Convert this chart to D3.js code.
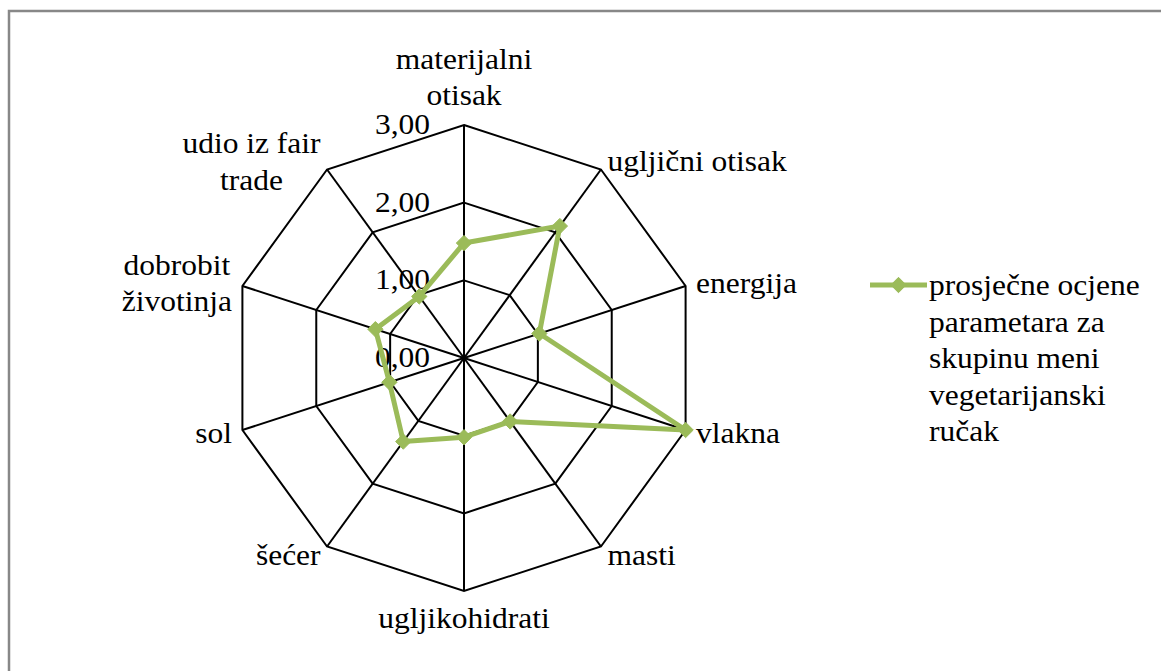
<!DOCTYPE html>
<html>
<head>
<meta charset="utf-8">
<script src="https://cdn.jsdelivr.net/npm/d3@7/dist/d3.min.js"></script>
<style>
  html, body { margin: 0; padding: 0; background: #fff; }
  svg { display: block; }
</style>
</head>
<body>
<svg id="chart" width="1161" height="671"></svg>
<script>
// ---- data ----
const categories = [
  "materijalni otisak", "ugljični otisak", "energija", "vlakna", "masti",
  "ugljikohidrati", "šećer", "sol", "dobrobit životinja", "udio iz fair trade"
];
const categoryLines = [
  ["materijalni", "otisak"], ["ugljični otisak"], ["energija"], ["vlakna"], ["masti"],
  ["ugljikohidrati"], ["šećer"], ["sol"], ["dobrobit", "životinja"], ["udio iz fair", "trade"]
];
const seriesName = "prosječne ocjene parametara za skupinu meni vegetarijanski ručak";
const legendLines = ["prosječne ocjene", "parametara za", "skupinu meni", "vegetarijanski", "ručak"];
const values = [1.48, 2.10, 1.02, 3.00, 1.01, 1.02, 1.33, 1.01, 1.20, 0.98];
const tickValues = [0, 1, 2, 3];
const tickLabels = ["0,00", "1,00", "2,00", "3,00"];

// ---- layout ----
const W = 1161, H = 671;
const cx = 464, cy = 358, R = 233;
const fontSize = 30, stretch = 1.05, lineH = 36.5;
const green = "#9BBB59";

const svg = d3.select("#chart");

// outer frame
svg.append("rect").attr("x", 9).attr("y", 11).attr("width", W + 20).attr("height", H + 20)
  .attr("fill", "#fff").attr("stroke", "#888").attr("stroke-width", 2.5);

const r = d3.scaleLinear().domain([0, 3]).range([0, R]);
const angle = d3.scaleLinear().domain([0, categories.length]).range([0, 2 * Math.PI]);
const pt = (i, v) => [cx + r(v) * Math.sin(angle(i)), cy - r(v) * Math.cos(angle(i))];

const g = svg.append("g");

// rings
tickValues.filter(t => t > 0).forEach(t => {
  g.append("path")
    .attr("d", d3.line()(categories.map((c, i) => pt(i, t))) + "Z")
    .attr("fill", "none").attr("stroke", "#000").attr("stroke-width", 2);
});
// spokes
categories.forEach((c, i) => {
  const [x, y] = pt(i, 3);
  g.append("line").attr("x1", cx).attr("y1", cy).attr("x2", x).attr("y2", y)
    .attr("stroke", "#000").attr("stroke-width", 2);
});

function stext(parent, x, y, str, anchor) {
  return parent.append("text")
    .attr("transform", `translate(${x},${y}) scale(${stretch},1)`)
    .attr("text-anchor", anchor)
    .style("font-family", '"Liberation Serif"')
    .attr("font-size", fontSize)
    .attr("fill", "#000")
    .text(str);
}

// tick labels
tickValues.forEach((t, k) => {
  stext(svg, cx - 34, cy - r(t) + 9, tickLabels[k], "end");
});

// category labels
categoryLines.forEach((lines, i) => {
  const th = angle(i);
  const [vx, vy] = pt(i, 3);
  const n = lines.length;
  let baselines, anchor, ax;
  if (i === 0) {
    baselines = lines.map((l, k) => vy - 20 - (n - 1 - k) * lineH);
    anchor = "middle"; ax = vx;
  } else if (i === categories.length / 2) {
    baselines = lines.map((l, k) => vy + 37 + k * lineH);
    anchor = "middle"; ax = vx;
  } else {
    const centerY = vy - 10 * Math.cos(th);
    baselines = lines.map((l, k) => centerY + 10 + (k - (n - 1) / 2) * lineH);
    anchor = Math.sin(th) > 0 ? "start" : "end";
    ax = vx + 11 * Math.sin(th);
  }
  const tmp = lines.map(l => stext(svg, 0, 700, l, "start"));
  const widths = tmp.map(t => t.node().getComputedTextLength() * stretch);
  tmp.forEach(t => t.remove());
  const maxW = d3.max(widths);
  let blockCenter;
  if (anchor === "middle") blockCenter = ax;
  else if (anchor === "start") blockCenter = ax + maxW / 2;
  else blockCenter = ax - maxW / 2;
  lines.forEach((l, k) => stext(svg, blockCenter, baselines[k], l, "middle"));
});

// series
const pts = values.map((v, i) => pt(i, v));
svg.append("path")
  .attr("d", d3.line()(pts) + "Z")
  .attr("fill", "none").attr("stroke", green).attr("stroke-width", 5)
  .attr("stroke-linejoin", "round");
const diamond = d3.symbol().type(d3.symbolDiamond2).size(150);
svg.selectAll(".mk").data(pts).join("path")
  .attr("class", "mk")
  .attr("transform", d => `translate(${d[0]},${d[1]})`)
  .attr("d", diamond)
  .attr("fill", green).attr("stroke", green).attr("stroke-width", 1);

// legend
const lx0 = 870, lx1 = 927, ly = 285;
svg.append("line").attr("x1", lx0).attr("x2", lx1).attr("y1", ly).attr("y2", ly)
  .attr("stroke", green).attr("stroke-width", 5);
svg.append("path").attr("transform", `translate(${(lx0 + lx1) / 2},${ly})`)
  .attr("d", diamond).attr("fill", green).attr("stroke", green);
legendLines.forEach((l, k) => stext(svg, 929, 295 + k * lineH, l, "start"));
</script>
</body>
</html>
